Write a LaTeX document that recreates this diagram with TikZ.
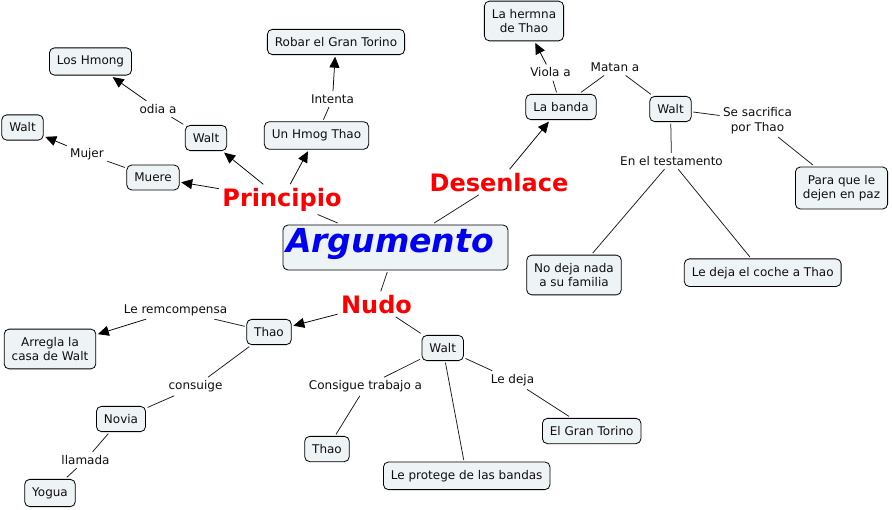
\documentclass[tikz,border=0pt]{standalone}
\usepackage{fontspec}
\setmainfont{DejaVu Sans}
\usetikzlibrary{arrows.meta}
\definecolor{boxfill}{RGB}{238,243,246}
\definecolor{hdred}{RGB}{250,0,0}
\definecolor{hdblue}{RGB}{0,0,240}
\definecolor{ink}{RGB}{15,15,15}
\begin{document}
\begin{tikzpicture}[x=1pt,y=-1pt,
  concept/.style={draw=black, line width=0.8pt, fill=boxfill, rounded corners=5pt,
    font=\fontsize{12}{14.5}\selectfont, text=ink, align=center, inner xsep=7.5pt, inner ysep=8pt,
    minimum height=25pt, outer sep=2pt},
  lbl/.style={font=\fontsize{12}{14.5}\selectfont, text=ink, align=center, inner sep=1.5pt, outer sep=2pt},
  head/.style={font=\fontsize{24}{28}\selectfont\bfseries, text=hdred, inner sep=1.5pt, outer sep=2pt, anchor=base},
  conn/.style={line width=0.75pt, draw=black!90},
  arr/.style={conn, draw=black, -{Triangle[length=11pt,width=10pt]}},
]
\fill[white] (0,0) rectangle (892,509);
\useasboundingbox (0,0) rectangle (892,509);

% central
\node[concept, minimum width=225pt, minimum height=45pt] (arg) at (395.5,247.5) {};
\node[font=\fontsize{33}{36}\selectfont\bfseries\itshape, text=hdblue, anchor=base, inner sep=0pt] (argtext) at (390,252) {Argumento};

% headings
\node[head] (prin) at (282,206) {Principio};
\node[head] (des) at (499,191) {Desenlace};
\node[head] (nudo) at (376.5,313) {Nudo};

% Principio branch
\node[concept] (robar) at (336,42) {Robar el Gran Torino};
\node[concept] (hmong) at (90.5,61.5) {Los Hmong};
\node[concept] (waltl) at (22.5,127.5) {Walt};
\node[concept] (waltm) at (206,138) {Walt};
\node[concept] (unh) at (316.5,135.5) {Un Hmog Thao};
\node[concept] (muere) at (153,177.5) {Muere};

% Desenlace branch
\node[concept] (herm) at (524,21) {La hermna\\de Thao};
\node[concept] (banda) at (561,107) {La banda};
\node[concept] (waltr) at (670.5,109) {Walt};
\node[concept] (paz) at (841.5,188) {Para que le\\dejen en paz};
\node[concept] (nodeja) at (574,275) {No deja nada\\a su familia};
\node[concept] (coche) at (762.7,272.7) {Le deja el coche a Thao};

% Nudo branch
\node[concept] (thaol) at (269,332) {Thao};
\node[concept] (arregla) at (50,349) {Arregla la\\casa de Walt};
\node[concept] (novia) at (121,419) {Novia};
\node[concept] (yogua) at (50,493) {Yogua};
\node[concept] (thaob) at (327,449) {Thao};
\node[concept] (waltn) at (442.7,348) {Walt};
\node[concept] (protege) at (466.7,475.8) {Le protege de las bandas};
\node[concept] (torino) at (591.7,431) {El Gran Torino};

% link labels
\node[lbl] (odia) at (158,109) {odia a};
\node[lbl] (mujer) at (87,154) {Mujer};
\node[lbl] (intenta) at (332.5,99) {Intenta};
\node[lbl] (viola) at (550.5,72.5) {Viola a};
\node[lbl] (matan) at (615,67.5) {Matan a};
\node[lbl] (sacr) at (757.5,120.5) {Se sacrifica\\por Thao};
\node[lbl] (testa) at (671.5,161) {En el testamento};
\node[lbl] (remc) at (175.5,310) {Le remcompensa};
\node[lbl] (consuige) at (195.5,386.5) {consuige};
\node[lbl] (llamada) at (85.5,460) {llamada};
\node[lbl] (trabajo) at (365.5,386.5) {Consigue trabajo a};
\node[lbl] (ledeja) at (512.5,380) {Le deja};

% connectors: central
\draw[conn] (arg) -- (prin);
\draw[conn] (arg) -- (des);
\draw[conn] (arg) -- (nudo);

% Principio
\draw[arr] (prin) -- (muere);
\draw[arr] (prin) -- (waltm);
\draw[arr] (prin) -- (unh);
\draw[conn] (waltm) -- (odia);
\draw[arr] (odia) -- (hmong);
\draw[conn] (muere) -- (mujer);
\draw[arr] (mujer) -- (waltl);
\draw[conn] (unh) -- (intenta);
\draw[arr] (intenta) -- (robar);

% Desenlace
\draw[arr] (des) -- (banda);
\draw[conn] (banda) -- (viola);
\draw[arr] (viola) -- (herm);
\draw[conn] (banda) -- (matan);
\draw[conn] (matan) -- (waltr);
\draw[conn] (waltr) -- (sacr);
\draw[conn] (sacr) -- (paz);
\draw[conn] (waltr) -- (testa);
\draw[conn] (testa) -- (nodeja);
\draw[conn] (testa) -- (coche);

% Nudo
\draw[arr] (nudo) -- (thaol);
\draw[conn] (nudo) -- (waltn);
\draw[conn] (thaol) -- (remc);
\draw[arr] (remc) -- (arregla);
\draw[conn] (thaol) -- (consuige);
\draw[conn] (consuige) -- (novia);
\draw[conn] (novia) -- (llamada);
\draw[conn] (llamada) -- (yogua);
\draw[conn] (waltn) -- (trabajo);
\draw[conn] (trabajo) -- (thaob);
\draw[conn] (waltn) -- (protege);
\draw[conn] (waltn) -- (ledeja);
\draw[conn] (ledeja) -- (torino);
\end{tikzpicture}
\end{document}
